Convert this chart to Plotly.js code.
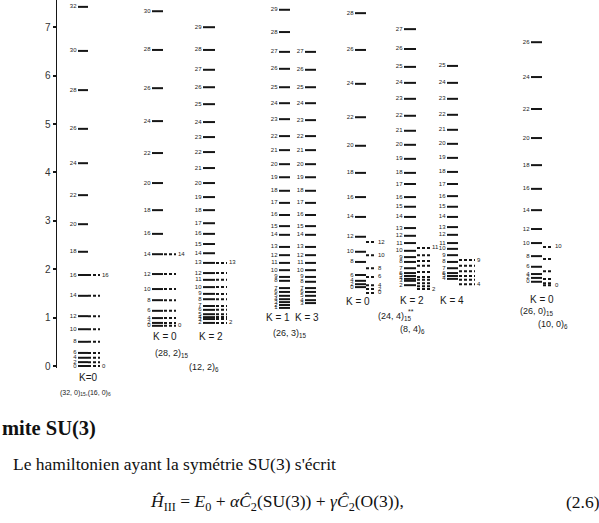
<!DOCTYPE html>
<html>
<head>
<meta charset="utf-8">
<script src="https://cdn.plot.ly/plotly-3.0.1.min.js"></script>
<style>html,body{margin:0;padding:0;background:#fff;}#chart{width:599px;height:523px;}</style>
</head>
<body>
<div id="chart"></div>
<script>
// ---------------- DATA (energies) ----------------
const yTicks = [0, 1, 2, 3, 4, 5, 6, 7];

// (32,0)15 K=0
const L_A0 = [0,2,4,6,8,10,12,14,16,18,20,22,24,26,28,30,32];
const E_A0 = [0.00,0.08,0.17,0.27,0.50,0.76,1.03,1.45,1.88,2.36,2.93,3.53,4.19,4.90,5.70,6.51,7.42];
// (16,0)6 K=0
const L_A0b = [0,2,4,6,8,10,12,14,16];
const E_A0b = [0.00,0.08,0.17,0.27,0.50,0.76,1.03,1.45,1.88];

// (28,2)15 K=0
const L_B0 = [0,2,4,6,8,10,12,14,16,18,20,22,24,26,28,30];
const E_B0 = [0.83,0.89,0.99,1.14,1.36,1.59,1.90,2.31,2.73,3.22,3.78,4.40,5.06,5.74,6.53,7.33];
// (12,2)6 K=0
const L_B0b = [0,2,4,6,8,10,12,14];
const E_B0b = [0.83,0.89,0.99,1.14,1.36,1.59,1.90,2.31];
// (28,2)15 K=2
const L_B2 = [2,3,4,5,6,7,8,9,10,11,12,13,14,15,16,17,18,19,20,21,22,23,24,25,26,27,28,29];
const E_B2 = [0.89,0.97,1.01,1.07,1.16,1.24,1.38,1.49,1.63,1.78,1.92,2.13,2.33,2.52,2.73,2.95,3.22,3.49,3.78,4.09,4.42,4.73,5.04,5.41,5.76,6.12,6.53,7.00];
// (12,2)6 K=2
const L_B2b = [2,3,4,5,6,7,8,9,10,11,12,13];
const E_B2b = [0.89,0.97,1.01,1.07,1.16,1.24,1.38,1.49,1.63,1.78,1.92,2.13];

// (26,3)15 K=1
const L_C1 = [1,2,3,4,5,6,7,8,9,10,11,12,13,14,15,16,17,18,19,20,21,22,23,24,25,26,27,28,29];
const E_C1 = [1.20,1.26,1.32,1.38,1.45,1.53,1.61,1.76,1.84,1.98,2.13,2.29,2.46,2.71,2.89,3.12,3.37,3.62,3.90,4.17,4.46,4.75,5.10,5.43,5.76,6.14,6.49,6.90,7.36];
// (26,3)15 K=3
const L_C3 = [3,4,5,6,7,8,9,10,11,12,13,14,15,16,17,18,19,20,21,22,23,24,25,26,27];
const E_C3 = [1.30,1.36,1.45,1.53,1.61,1.74,1.84,1.98,2.13,2.29,2.46,2.71,2.89,3.12,3.37,3.62,3.90,4.17,4.46,4.75,5.08,5.43,5.76,6.12,6.49];

// (24,4)15 K=0
const L_D0 = [0,2,4,6,8,10,12,14,16,18,20,22,24,26,28];
const E_D0 = [1.63,1.69,1.76,1.88,2.15,2.36,2.67,3.08,3.49,3.99,4.55,5.14,5.83,6.53,7.29];
// (8,4)6 K=0
const L_D0b = [0,2,4,6,8,10,12];
const E_D0b = [1.51,1.59,1.67,1.84,2.02,2.29,2.56];
// (24,4)15 K=2
const L_D2 = [2,3,4,5,6,7,8,9,10,11,12,13,14,15,16,17,18,19,20,21,22,23,24,25,26,27];
const E_D2 = [1.67,1.76,1.80,1.86,1.92,2.02,2.15,2.25,2.38,2.54,2.69,2.85,3.08,3.29,3.49,3.76,3.99,4.28,4.57,4.86,5.17,5.52,5.85,6.18,6.55,6.96];
// (8,4)6 K=2
const L_D2b = [2,3,4,5,6,7,8,9,10,11];
const E_D2b = [1.59,1.65,1.71,1.78,1.84,1.94,2.07,2.17,2.29,2.44];
// (24,4)15 K=4
const L_D4 = [4,5,6,7,8,9,10,11,12,13,14,15,16,17,18,19,20,21,22,23,24,25];
const E_D4 = [1.80,1.86,1.92,2.02,2.15,2.29,2.42,2.54,2.71,2.87,3.08,3.29,3.51,3.76,4.01,4.30,4.59,4.88,5.19,5.52,5.85,6.20];
// (8,4)6 K=4
const L_D4b = [4,5,6,7,8,9];
const E_D4b = [1.69,1.78,1.86,1.96,2.07,2.19];

// (26,0)15 K=0
const L_E0 = [0,2,4,6,8,10,12,14,16,18,20,22,24,26];
const E_E0 = [1.74,1.82,1.90,2.05,2.27,2.54,2.83,3.22,3.66,4.15,4.71,5.31,5.97,6.69];
// (10,0)6 K=0
const L_E0b = [0,2,4,6,8,10];
const E_E0b = [1.67,1.71,1.80,1.96,2.21,2.46];

const kLabels = ["K=0","K = 0","K = 2","K = 1","K = 3","K = 0","K = 2","K = 4","K = 0"];
const irrepLabels = [
  "(32, 0)<sub>15</sub>,(16, 0)<sub>6</sub>",
  "(28, 2)<sub>15</sub>", "(12, 2)<sub>6</sub>",
  "(26, 3)<sub>15</sub>",
  "(24, 4)<sub>15</sub>", "(8, 4)<sub>6</sub>",
  "(26, 0)<sub>15</sub>", "(10, 0)<sub>6</sub>"
];

// ---------------- LAYOUT / DRAWING ----------------
const W = 599, H = 523, ML = 57, MB = 155, PH = H - MB; // plot area 57..599, 0..368
const INK = '#161616';
const traces = [];

function levels(L, E, x0, x1, dashed, labelMode) {
  const xs = [], ys = [];
  E.forEach(e => { xs.push(x0, x1, null); ys.push(e, e, null); });
  traces.push({type:'scatter', mode:'lines', x:xs, y:ys, hoverinfo:'skip',
    line:{color:INK, width:2, dash: dashed ? '3px,2px' : 'solid'}});
  let idx = [];
  if (labelMode === 'all') idx = L.map((_, i) => i);
  else if (labelMode === 'ends') idx = [0, L.length - 1];
  if (idx.length) {
    traces.push({type:'scatter', mode:'text', cliponaxis:false, hoverinfo:'skip',
      x: idx.map(() => dashed ? x1 + 2 : x0 - 1.5),
      y: idx.map(i => E[i]),
      text: idx.map(i => String(L[i])),
      textposition: dashed ? 'middle right' : 'middle left',
      textfont:{family:'Liberation Sans, Arial, sans-serif', size:6, color:'#222'}});
  }
}

levels(L_A0, E_A0, 78, 88, false, 'all');
levels(L_A0b, E_A0b, 88, 100, true, 'ends');
levels(L_B0, E_B0, 152, 163, false, 'all');
levels(L_B0b, E_B0b, 164, 176, true, 'ends');
levels(L_B2, E_B2, 203, 215, false, 'all');
levels(L_B2b, E_B2b, 216, 227, true, 'ends');
levels(L_C1, E_C1, 279, 290, false, 'all');
levels(L_C3, E_C3, 305, 316, false, 'all');
levels(L_D0, E_D0, 355, 366, false, 'all');
levels(L_D0b, E_D0b, 366, 376, true, 'all');
levels(L_D2, E_D2, 404, 416, false, 'all');
levels(L_D2b, E_D2b, 417, 430, true, 'ends');
levels(L_D4, E_D4, 447, 458, false, 'all');
levels(L_D4b, E_D4b, 459, 475, true, 'ends');
levels(L_E0, E_E0, 531, 542, false, 'all');
levels(L_E0b, E_E0b, 543, 553, true, 'ends');

const px = x => (x - ML) / (W - ML);
const py = y => (PH - y) / PH;
const sans = 'Liberation Sans, Arial, sans-serif';
const serif = 'Liberation Serif, DejaVu Serif, serif';
function ann(text, x, y, size, opts) {
  return Object.assign({xref:'paper', yref:'paper', x:px(x), y:py(y), text:text,
    showarrow:false, xanchor:'center', yanchor:'middle',
    font:{family:sans, size:size, color:'#1a1a1a'}}, opts || {});
}
const kPos = [[88,377],[165,336],[211,336],[278,317],[307,317],[358,301],[412,300],[452,300],[542,299]];
const irrPos = [[85,393],[172,353],[204,367],[290,333],[395,316],[412,329],[537,311],[553,324]];
const annotations = [];
kLabels.forEach((t, i) => annotations.push(ann(t, kPos[i][0], kPos[i][1], 10)));
irrepLabels.forEach((t, i) => annotations.push(ann(t, irrPos[i][0], irrPos[i][1], i === 0 ? 7 : 9)));
annotations.push(ann('**', 411, 311, 7));
const tf = s => ({family:serif, size:s, color:'#111'});
annotations.push(ann('<b>mite SU(3)</b>', 0, 429, 20.5, {xanchor:'left', font:tf(20.5)}));
annotations.push(ann("Le hamiltonien ayant la symétrie SU(3) s'écrit", 11, 464, 17.5, {xanchor:'left', font:tf(17.5)}));
annotations.push(ann("<i>Ĥ</i><sub>III</sub> = <i>E</i><sub>0</sub> + <i>α</i><i>Ĉ</i><sub>2</sub>(SU(3)) + <i>γ</i><i>Ĉ</i><sub>2</sub>(O(3)),", 148, 502, 17.5, {xanchor:'left', font:tf(17.5)}));
annotations.push(ann("(2.6)", 564, 502, 17.5, {xanchor:'left', font:tf(17.5)}));

const layout = {
  width: W, height: H,
  margin: {l: ML, r: 0, t: 0, b: MB, pad: 0},
  paper_bgcolor: '#fff', plot_bgcolor: '#fff',
  showlegend: false,
  xaxis: {range: [ML, W], visible: false, fixedrange: true},
  yaxis: {range: [-2/48.4, 366/48.4], tickvals: yTicks, ticktext: yTicks.map(String),
    showgrid: false, zeroline: false, showline: true, linecolor: INK, linewidth: 1.5,
    ticks: 'outside', ticklen: 3, tickwidth: 2, tickcolor: INK,
    tickfont: {family: sans, size: 10, color: '#333'}, fixedrange: true},
  annotations: annotations
};
Plotly.newPlot('chart', traces, layout, {staticPlot: true, displayModeBar: false});
</script>
</body>
</html>
